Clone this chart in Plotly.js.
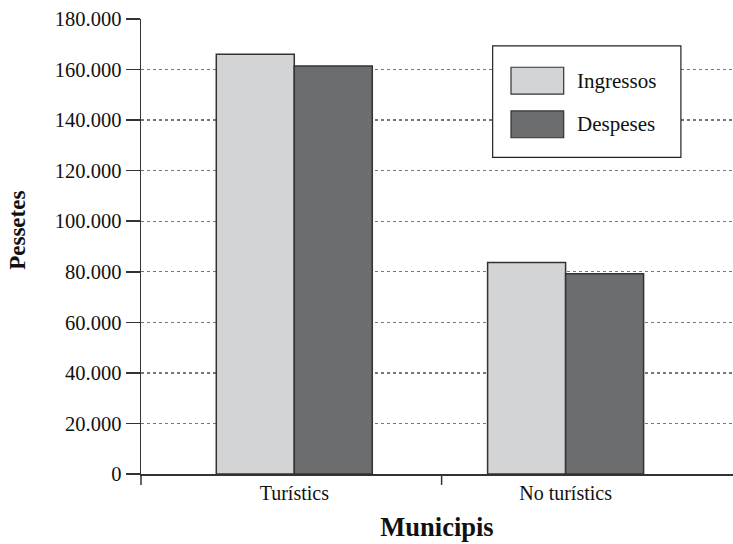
<!DOCTYPE html>
<html><head><meta charset="utf-8">
<script src="https://cdn.plot.ly/plotly-3.0.1.min.js"></script>
<style>html,body{margin:0;padding:0;background:#fff}#chart{width:733px;height:544px}</style>
</head><body><div id="chart"></div>
<script>
const categories = ["Turístics", "No turístics"];
const seriesNames = ["Ingressos", "Despeses"];
const ingressos = [166100, 83700];
const despeses = [161400, 79200];
const seriesColors = ["#d3d4d6", "#6c6d6f"];
const yTicks = [0, 20000, 40000, 60000, 80000, 100000, 120000, 140000, 160000, 180000];
const yTitle = "Pessetes";
const xTitle = "Municipis";

const font = "Liberation Serif, Times New Roman, serif";
const traces = [ingressos, despeses].map((vals, i) => ({
  type: "bar", name: seriesNames[i], x: categories, y: vals,
  marker: {color: seriesColors[i], line: {color: "#333", width: 1.5}},
  showlegend: false
}));

// custom legend (box + large swatches)
const shapes = [
  {type: "rect", xref: "paper", yref: "paper", x0: 0.594, x1: 0.912, y0: 0.696, y1: 0.941,
   line: {color: "#222", width: 1.2}, fillcolor: "#fff", layer: "above"},
  // boundary ticks of the category axis
  {type: "line", xref: "paper", yref: "paper", x0: 0, x1: 0, y0: 0, y1: -0.024, line: {color: "#333", width: 1.5}},
  {type: "line", xref: "x", yref: "paper", x0: 0.543, x1: 0.543, y0: 0, y1: -0.024, line: {color: "#333", width: 1.5}}
];
const annotations = [
  {xref: "paper", yref: "paper", x: -0.21, y: 0.536, xanchor: "center", yanchor: "middle", textangle: -90,
   text: "<b>" + yTitle + "</b>", showarrow: false, font: {family: font, size: 23, color: "#111"}}
];
seriesNames.forEach((n, i) => {
  const yTop = 0.894 - i * 0.096;
  shapes.push({type: "rect", xref: "paper", yref: "paper", x0: 0.625, x1: 0.714, y0: yTop - 0.059, y1: yTop,
    fillcolor: seriesColors[i], line: {color: "#333", width: 1.2}, layer: "above"});
  annotations.push({xref: "paper", yref: "paper", x: 0.733, y: yTop - 0.0295, xanchor: "left", yanchor: "middle",
    text: n, showarrow: false, font: {family: font, size: 21, color: "#111"}});
});

const layout = {
  width: 733, height: 544,
  margin: {l: 141, r: 0, t: 19, b: 70},
  paper_bgcolor: "#fff", plot_bgcolor: "#fff",
  separators: ",.",
  font: {family: font, color: "#111"},
  barmode: "group", bargap: 0.425, bargroupgap: 0,
  xaxis: {
    type: "category", range: [-0.565, 1.617], ticks: "", showgrid: false,
    showline: true, linecolor: "#333", linewidth: 1.5,
    tickfont: {family: font, size: 20, color: "#111"}, ticklabelstandoff: 0,
    title: {text: "<b>" + xTitle + "</b>", font: {family: font, size: 26.5, color: "#111"}, standoff: 15}
  },
  yaxis: {
    range: [0, 180000], tickvals: yTicks, tickformat: ",d",
    ticks: "outside", ticklen: 14, tickwidth: 1.5, tickcolor: "#333",
    showline: true, linecolor: "#333", linewidth: 1.5,
    showgrid: true, gridcolor: "#777", gridwidth: 1.3, griddash: "dot",
    zeroline: false,
    tickfont: {family: font, size: 20.5, color: "#111"}
  },
  shapes: shapes, annotations: annotations
};
Plotly.newPlot("chart", traces, layout, {displayModeBar: false, staticPlot: true});
</script></body></html>
